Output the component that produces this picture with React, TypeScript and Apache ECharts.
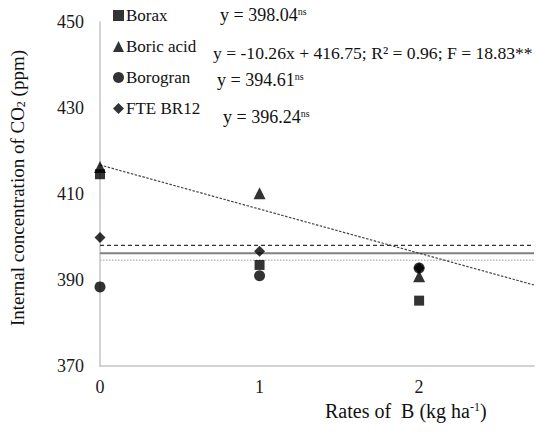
import React, { useEffect, useRef } from "react";
import * as echarts from "echarts";

const rates = [0, 1, 2];
const borax = [414.6, 393.5, 385.2];
const boricAcid = [416.3, 410.2, 390.9];
const borogran = [388.4, 391.0, 392.8];
const fteBr12 = [399.9, 396.7, 392.8];
const meanBorax = 398.04;
const meanBorogran = 394.61;
const meanFte = 396.24;
const boricSlope = -10.26;
const boricIntercept = 416.75;
const yTicks = [370, 390, 410, 430, 450];
const xMax = 2.72;

const FONT = "Liberation Serif";

export default function App() {
  const ref = useRef<HTMLDivElement>(null);
  useEffect(() => {
    if (!ref.current) return;
    const chart = echarts.init(ref.current, undefined, { renderer: "svg" });
    const pts = (arr: number[]) => arr.map((v, i) => [rates[i], v]);
    const hline = (v: number) => [[0, v], [xMax, v]];
    const eqStyle = (text: string, size = 18) => ({
      text,
      fill: "#111",
      rich: {
        a: { fontSize: size, fontFamily: FONT, fill: "#111" },
        s: { fontSize: 10, fontFamily: FONT, fill: "#111", verticalAlign: "top", padding: [0, 0, 7, 0] },
      },
      verticalAlign: "middle",
    });
    const richLabel = { t: { fontSize: 18, fontFamily: FONT, color: "#1a1a1a" } };
    chart.setOption({
      animation: false,
      textStyle: { fontFamily: FONT },
      grid: { left: 100, right: 0, top: 22, bottom: 67 },
      xAxis: {
        type: "value",
        min: 0,
        max: xMax,
        interval: 1,
        axisLine: { show: true, lineStyle: { color: "#c4c4c4", width: 1.5 } },
        axisTick: { show: false },
        splitLine: { show: false },
        axisLabel: {
          margin: 12,
          fontSize: 18,
          fontFamily: FONT,
          color: "#1a1a1a",
          rich: richLabel,
          formatter: (v: number) => (rates.includes(v) ? `{t|${v}}` : ""),
        },
      },
      yAxis: {
        type: "value",
        min: yTicks[0],
        max: yTicks[yTicks.length - 1],
        interval: 20,
        axisLine: { show: true, lineStyle: { color: "#c4c4c4", width: 1.5 } },
        axisTick: { show: false },
        splitLine: { show: false },
        axisLabel: {
          margin: 16,
          fontSize: 18,
          fontFamily: FONT,
          color: "#1a1a1a",
          rich: richLabel,
          formatter: (v: number) => `{t|${v}}`,
        },
      },
      legend: {
        orient: "vertical",
        left: 108,
        top: 2,
        itemWidth: 11,
        itemHeight: 11,
        itemGap: 14,
        formatter: (name: string) => `{t|${name}}`,
        textStyle: {
          fontSize: 17,
          fontFamily: FONT,
          color: "#111",
          padding: [0, 0, 0, -3],
          rich: { t: { fontSize: 17, fontFamily: FONT, color: "#111" } },
        },
        data: [
          { name: "Borax", icon: "rect" },
          { name: "Boric acid", icon: "triangle" },
          { name: "Borogran", icon: "circle" },
          { name: "FTE BR12", icon: "diamond" },
        ],
      },
      series: [
        {
          name: "Borax mean",
          type: "line",
          data: hline(meanBorax),
          symbol: "none",
          lineStyle: { color: "#333", width: 1.3, type: [4, 3] },
          z: 1,
        },
        {
          name: "FTE mean",
          type: "line",
          data: hline(meanFte),
          symbol: "none",
          lineStyle: { color: "#808080", width: 2 },
          z: 1,
        },
        {
          name: "Borogran mean",
          type: "line",
          data: hline(meanBorogran),
          symbol: "none",
          lineStyle: { color: "#bbbbbb", width: 1.5, type: [1.5, 1.5] },
          z: 1,
        },
        {
          name: "Boric fit",
          type: "line",
          data: [
            [0, boricIntercept],
            [xMax, boricIntercept + boricSlope * xMax],
          ],
          symbol: "none",
          lineStyle: { color: "#444", width: 1.2, type: [2.5, 1.5] },
          z: 1,
        },
        { name: "Borax", type: "scatter", data: pts(borax), symbol: "rect", symbolSize: 10, itemStyle: { color: "#000" }, z: 3 },
        { name: "Boric acid", type: "scatter", data: pts(boricAcid), symbol: "triangle", symbolSize: 12, itemStyle: { color: "#000" }, z: 3 },
        { name: "Borogran", type: "scatter", data: pts(borogran), symbol: "circle", symbolSize: 11, itemStyle: { color: "#000" }, z: 3 },
        { name: "FTE BR12", type: "scatter", data: pts(fteBr12), symbol: "diamond", symbolSize: 11, itemStyle: { color: "#000" }, z: 3 },
      ],
      graphic: [
        { type: "text", x: 220, y: 15, style: eqStyle("{a|y = 398.04}{s|ns}") },
        { type: "text", x: 213, y: 53, style: eqStyle("{a|y = -10.26x + 416.75; R² = 0.96; F = 18.83**}", 17.6) },
        { type: "text", x: 217, y: 80, style: eqStyle("{a|y = 394.61}{s|ns}") },
        { type: "text", x: 223, y: 117, style: eqStyle("{a|y = 396.24}{s|ns}") },
        {
          type: "text",
          x: 325,
          y: 411,
          style: {
            text: "{a|Rates of  B (kg ha}{s|-1}{a|)}",
            verticalAlign: "middle",
            fill: "#111",
            rich: {
              a: { fontSize: 20, fontFamily: FONT, fill: "#111" },
              s: { fontSize: 12, fontFamily: FONT, fill: "#111", verticalAlign: "top", padding: [0, 0, 8, 0] },
            },
          },
        },
        {
          type: "text",
          x: 17,
          y: 188,
          rotation: Math.PI / 2,
          style: {
            text: "{a|Internal concentration of CO}{s|2}{a| (ppm)}",
            align: "center",
            verticalAlign: "middle",
            fill: "#111",
            rich: {
              a: { fontSize: 19, fontFamily: FONT, fill: "#111" },
              s: { fontSize: 12, fontFamily: FONT, fill: "#111", verticalAlign: "bottom", padding: [6, 0, 0, 0] },
            },
          },
        },
      ],
    });
    return () => chart.dispose();
  }, []);
  return <div ref={ref} style={{ width: 537, height: 433, position: "absolute", left: 0, top: 0 }} />;
}
